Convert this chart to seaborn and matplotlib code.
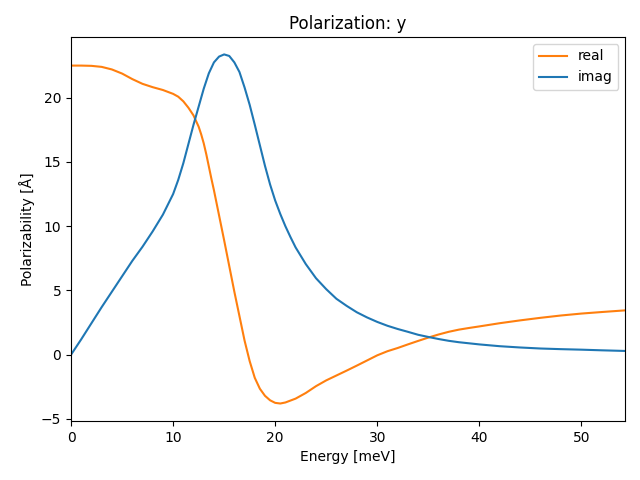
import numpy as np
import pandas as pd
import matplotlib
matplotlib.use("Agg")
import matplotlib.pyplot as plt
import seaborn as sns

# values
energy_real = [0, 1, 2, 3, 4, 5, 6, 7, 8, 9, 10, 10.5, 11, 11.5, 12, 12.5, 12.75, 13,
               13.25, 13.5, 13.75, 14, 14.5, 15, 15.5, 16, 16.5, 17, 17.5, 18, 18.5,
               19, 19.5, 20, 20.5, 21, 22, 23, 24, 25, 26, 27, 28, 29, 30, 31, 32,
               33, 34, 35, 36, 37, 38, 39, 40, 42, 44, 46, 48, 50, 52, 54.3]
real = [22.5, 22.5, 22.48, 22.4, 22.2, 21.88, 21.45, 21.08, 20.82, 20.6, 20.3, 20.08,
        19.72, 19.22, 18.62, 17.75, 17.15, 16.45, 15.6, 14.65, 13.7, 12.8, 10.85, 8.9,
        6.9, 4.9, 3.0, 1.1, -0.5, -1.8, -2.65, -3.2, -3.55, -3.75, -3.8, -3.72,
        -3.42, -2.98, -2.45, -2.0, -1.62, -1.24, -0.85, -0.45, -0.05, 0.27, 0.52,
        0.8, 1.07, 1.33, 1.57, 1.78, 1.95, 2.08, 2.2, 2.45, 2.67, 2.87, 3.05, 3.2,
        3.32, 3.45]

energy_imag = [0, 1, 2, 3, 4, 5, 6, 7, 8, 9, 10, 10.5, 11, 11.5, 12, 12.5, 13, 13.5,
               14, 14.5, 15, 15.5, 16, 16.5, 17, 17.5, 18, 18.5, 19, 19.5, 20, 20.5,
               21, 21.5, 22, 23, 24, 25, 26, 27, 28, 29, 30, 31, 32, 33, 34, 35, 36,
               37, 38, 40, 42, 44, 46, 48, 50, 52, 54.3]
imag = [0.0, 1.2, 2.45, 3.7, 4.9, 6.1, 7.3, 8.4, 9.6, 10.9, 12.5, 13.6, 14.9, 16.4,
        17.9, 19.3, 20.7, 21.9, 22.75, 23.2, 23.37, 23.25, 22.75, 22.0, 20.8, 19.45,
        17.9, 16.3, 14.7, 13.25, 12.0, 10.95, 10.0, 9.15, 8.35, 7.05, 5.95, 5.1, 4.35,
        3.8, 3.3, 2.9, 2.55, 2.25, 2.0, 1.78, 1.55, 1.38, 1.22, 1.08, 0.97, 0.8, 0.66,
        0.56, 0.48, 0.43, 0.39, 0.34, 0.29]

fig, ax = plt.subplots(figsize=(6.4, 4.8), dpi=100)

sns.lineplot(x=energy_real, y=real, color="#ff7f0e", label="real", ax=ax)
sns.lineplot(x=energy_imag, y=imag, color="#1f77b4", label="imag", ax=ax)

ax.set_xlim(0, 54.3)
ax.set_title("Polarization: y")
ax.set_xlabel("Energy [meV]")
ax.set_ylabel("Polarizability [Å]")
ax.legend(loc="upper right")

fig.subplots_adjust(left=0.111, right=0.977, top=0.923, bottom=0.123)
fig.savefig("out.png")
